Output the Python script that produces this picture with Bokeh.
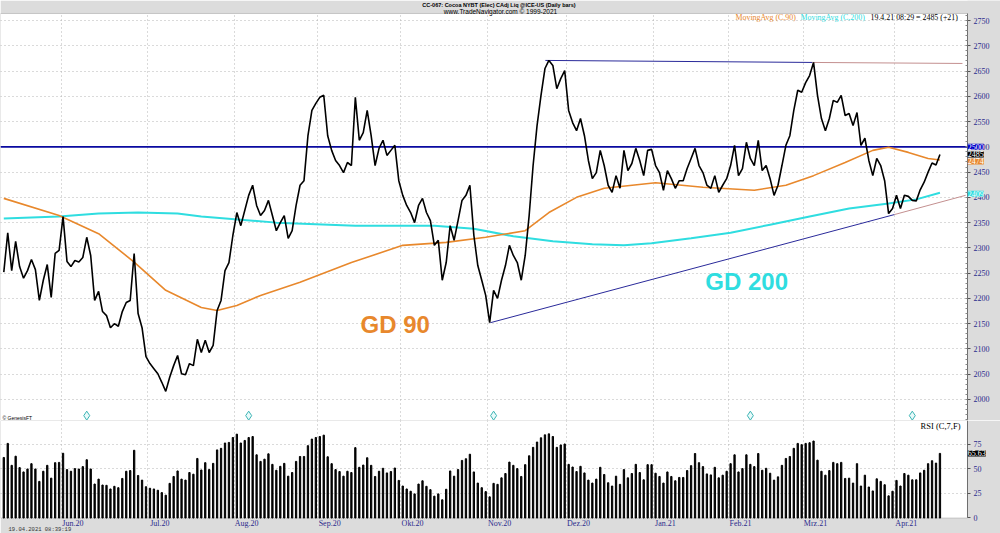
from bokeh.plotting import figure
from bokeh.models import Range1d, FixedTicker, Label, LinearAxis, BoxAnnotation
from bokeh.layouts import column
from bokeh.embed import file_html
from bokeh.resources import INLINE
from bokeh.core.properties import value

# ---------------- data ----------------
close = [
    2252, 2330, 2255, 2313, 2263, 2240, 2255, 2277, 2257, 2196,
    2236, 2267, 2202, 2289, 2295, 2362, 2273, 2263, 2275, 2272,
    2281, 2321, 2285, 2196, 2214, 2174, 2166, 2142, 2150, 2145,
    2174, 2192, 2196, 2289, 2170, 2142, 2085, 2071, 2061, 2051,
    2034, 2016, 2044, 2067, 2087, 2051, 2049, 2071, 2067, 2119,
    2093, 2117, 2093, 2107, 2176, 2196, 2255, 2271, 2325, 2370,
    2344, 2374, 2404, 2424, 2384, 2364, 2374, 2394, 2364, 2334,
    2350, 2364, 2319, 2334, 2384, 2424, 2433, 2522, 2572, 2586,
    2598, 2602, 2522, 2493, 2473, 2463, 2449, 2469, 2463, 2598,
    2513, 2528, 2572, 2522, 2463, 2497, 2513, 2483, 2493, 2503,
    2433, 2404, 2384, 2370, 2350, 2384, 2398, 2370, 2354, 2305,
    2315, 2236, 2271, 2344, 2315, 2354, 2394, 2404, 2424, 2325,
    2265, 2236, 2206, 2152, 2216, 2200, 2236, 2265, 2305, 2285,
    2271, 2236, 2285, 2364, 2463, 2542, 2602, 2655, 2671, 2661,
    2615, 2635, 2651, 2572, 2548, 2532, 2556, 2522, 2473, 2437,
    2449, 2493, 2463, 2424, 2410, 2443, 2418, 2493, 2453, 2467,
    2497, 2473, 2443, 2493, 2495, 2463, 2449, 2414, 2453, 2437,
    2418, 2433, 2433, 2457, 2477, 2497, 2463, 2449, 2424, 2418,
    2443, 2410, 2424, 2437, 2463, 2503, 2443, 2457, 2509, 2477,
    2463, 2513, 2453, 2463, 2437, 2404, 2424, 2463, 2503, 2522,
    2572, 2612, 2608, 2627, 2641, 2667, 2602, 2556, 2532, 2556,
    2592, 2588, 2602, 2562, 2566, 2542, 2568, 2503, 2517, 2473,
    2443, 2477, 2463, 2433, 2368, 2378, 2404, 2378, 2404, 2402,
    2394, 2393, 2415, 2430, 2450, 2468, 2464, 2485,
]

rsi = [
    61.5, 75.8, 53.5, 62.8, 51.2, 46.8, 49.8, 55.2, 49.8, 37.2,
    47.5, 53.5, 40.5, 56.2, 56.5, 65.8, 49.2, 47.5, 50.2, 49.8,
    52.2, 59.2, 49.8, 34.5, 39.5, 33.5, 33.2, 29.5, 32.2, 30.8,
    40.2, 47.5, 48.2, 68.8, 43.2, 38.5, 31.8, 30.2, 29.5, 28.2,
    25.8, 23.2, 35.2, 42.2, 47.8, 39.5, 38.5, 46.2, 44.5, 60.5,
    48.8, 56.2, 49.2, 55.5, 69.2, 70.8, 76.2, 76.8, 81.8, 85.2,
    76.2, 78.8, 81.8, 82.8, 64.2, 57.5, 59.8, 65.2, 54.5, 48.5,
    52.5, 55.5, 42.5, 46.2, 57.5, 62.5, 62.5, 73.5, 80.2, 81.8,
    82.8, 84.2, 62.2, 55.2, 49.2, 47.2, 42.5, 47.5, 46.2, 71.5,
    51.5, 53.8, 61.2, 53.5, 42.2, 47.5, 50.5, 45.8, 47.2, 50.8,
    38.2, 32.5, 29.5, 27.2, 24.5, 34.5, 37.8, 32.2, 28.8, 22.2,
    24.5, 18.5, 29.2, 47.8, 42.5, 49.2, 58.5, 60.2, 64.8, 46.8,
    35.5, 30.8, 26.8, 21.5, 35.2, 34.2, 40.8, 45.2, 56.8, 53.5,
    50.2, 42.2, 54.2, 63.2, 71.8, 77.2, 81.5, 84.5, 85.5, 82.8,
    71.8, 74.2, 75.2, 54.5, 51.8, 47.2, 52.5, 45.8, 38.5, 35.5,
    39.5, 51.5, 44.2, 35.8, 32.5, 42.5, 34.2, 49.2, 40.8, 45.2,
    54.5, 46.2, 38.8, 54.2, 54.2, 45.5, 42.2, 35.5, 46.8, 42.2,
    37.8, 41.2, 41.2, 48.2, 53.2, 65.5, 56.2, 52.2, 44.8, 43.8,
    51.5, 40.8, 43.5, 47.5, 55.2, 64.2, 46.8, 50.2, 64.2, 54.5,
    52.2, 65.5, 48.5, 50.5, 45.5, 38.5, 41.8, 53.5, 60.5, 62.5,
    70.8, 75.8, 74.5, 75.8, 76.5, 78.2, 58.8, 47.5, 43.5, 48.2,
    56.5, 55.2, 56.5, 40.2, 40.5, 35.5, 55.2, 32.5, 43.5, 31.5,
    27.5, 39.8, 37.2, 33.8, 22.5, 27.2, 38.2, 32.5, 45.2, 43.5,
    38.8, 38.8, 45.8, 48.5, 55.2, 58.2, 55.8, 65.63,
]

# moving averages, read at selected bars
ma90_bar = [1, 15, 25, 34, 42, 51, 55, 60, 66, 76, 89, 102, 113, 123, 133,
            139, 146, 153, 166, 178, 191, 199, 206, 214, 221, 225, 230, 235, 238]
ma90_val = [2398, 2364, 2328, 2272, 2216, 2182, 2176, 2186, 2206, 2232, 2271, 2305, 2311, 2321, 2334,
            2370, 2400, 2418, 2429, 2420, 2414, 2424, 2443, 2469, 2493, 2499, 2489, 2477, 2474]

ma200_bar = [1, 15, 25, 35, 45, 51, 70, 90, 110, 120, 130, 140, 150, 158,
             165, 175, 185, 195, 205, 215, 225, 232, 238]
ma200_val = [2358, 2362, 2368, 2370, 2368, 2362, 2350, 2344, 2344, 2338, 2323, 2313, 2307, 2305,
             2309, 2319, 2330, 2346, 2362, 2378, 2388, 2396, 2409]

# trend lines (bar, price)
top_trend_bar = [138.1, 205.7]
top_trend_val = [2671, 2667]
top_ext_bar = [205.7, 243.7]
top_ext_val = [2667, 2665]
low_trend_bar = [124.2, 226.5]
low_trend_val = [2152, 2366]
low_ext_bar = [226.5, 244.5]
low_ext_val = [2366, 2404]
resistance = 2500

signal_bars = [22, 63, 125, 190, 231]
signal_level = [1968, 1968, 1968, 1968, 1968]

month_start = [16, 38, 60, 81, 102, 124, 144, 166, 185, 204, 227]
month_labels = ["Jun.20", "Jul.20", "Aug.20", "Sep.20", "Okt.20", "Nov.20",
                "Dez.20", "Jan.21", "Feb.21", "Mrz.21", "Apr.21"]
price_ticks = [2000, 2050, 2100, 2150, 2200, 2250, 2300, 2350, 2400, 2450,
               2500, 2550, 2600, 2650, 2700, 2750]
rsi_ticks = [0, 25, 50, 75]

# last values shown in the axis boxes
box_vals = [2407, 2471, 2485, 2500]
box_text = ["2409", "2474", "2485", "2500"]

gd_text = ["GD 90", "GD 200"]
gd_bar = [91.3, 178.6]
gd_val = [2148, 2234]

bars = list(range(1, len(close) + 1))

# ---------------- styling / frame geometry ----------------
W = 1000
GREY = "#dcdcdc"
NAVY = "#2b2b8c"
ORANGE = "#e8882c"
CYAN = "#2fdde0"
SERIF = "Liberation Serif"
GRID = "#b4b4b4"
FRAME = "#6e6e6e"

X0, X1 = 0.165, 253.33          # full canvas width in bar units
AX = 244.97                      # where the price/RSI scale sits
P_LO, P_HI, P_TOP = 1958.4, 2763.9, 2789.6
R_LO, R_HI, R_BOT = 0.0, 99.06, -15.75

xr = Range1d(X0, X1)


def slabel(fig, x, y, text, size="8px", color="black", font=SERIF, align="left",
           style="normal", bg=None, xunits="screen", yunits="screen"):
    lab = Label(x=x, y=y, x_units=xunits, y_units=yunits, text=text,
                text_font=font, text_font_size=size, text_color=color,
                text_align=align, text_baseline="middle", text_font_style=style)
    if bg is not None:
        lab.background_fill_color = bg
    fig.add_layout(lab)


def style_grid(fig, yticks):
    fig.xgrid.ticker = FixedTicker(ticks=[m - 0.5 for m in month_start])
    fig.ygrid.ticker = FixedTicker(ticks=yticks)
    for g in (fig.xgrid, fig.ygrid):
        g.grid_line_color = GRID
        g.grid_line_dash = "1 3"
        g.grid_line_width = 1


# ---------------- price panel ----------------
p = figure(width=W, height=420, x_range=xr, y_range=Range1d(P_LO, P_TOP),
           x_axis_location=None, y_axis_location=None,
           output_backend="svg", toolbar_location=None,
           min_border_left=0, min_border_right=0, min_border_top=0, min_border_bottom=0)
p.background_fill_color = "white"
p.border_fill_color = GREY
p.outline_line_color = None
style_grid(p, price_ticks)

# grey margins (header band, scale band) and plot frame
p.add_layout(BoxAnnotation(bottom=P_HI, fill_color=GREY, fill_alpha=1, line_color=None, level="underlay"))
p.add_layout(BoxAnnotation(left=AX, fill_color=GREY, fill_alpha=1, line_color=None, level="underlay"))
p.add_layout(BoxAnnotation(left=X0, right=AX, bottom=P_LO, top=P_HI, fill_alpha=0,
                           line_color=FRAME, line_width=1, level="underlay"))

pax = LinearAxis(fixed_location=AX, bounds=(P_LO, P_HI))
pax.ticker = FixedTicker(ticks=price_ticks, minor_ticks=list(range(1960, 2761, 10)))
pax.major_label_text_font = SERIF
pax.major_label_text_font_size = "8px"
pax.major_label_text_color = NAVY
pax.axis_line_color = FRAME
pax.major_tick_line_color = "#555555"
pax.minor_tick_line_color = "#888888"
pax.major_tick_in = 0
pax.major_tick_out = 3
pax.minor_tick_in = 2
pax.minor_tick_out = 0
pax.major_label_standoff = 3
p.add_layout(pax, "right")

p.line([X0, AX], [resistance, resistance], line_color="#0a0aa0", line_width=1.6)
p.line(ma200_bar, ma200_val, line_color=CYAN, line_width=2)
p.line(ma90_bar, ma90_val, line_color=ORANGE, line_width=1.6)
p.line(top_trend_bar, top_trend_val, line_color="#2a2a9a", line_width=1)
p.line(top_ext_bar, top_ext_val, line_color="#c49090", line_width=1)
p.line(low_trend_bar, low_trend_val, line_color="#2a2a9a", line_width=1)
p.line(low_ext_bar, low_ext_val, line_color="#c49090", line_width=1)
p.line(bars, close, line_color="black", line_width=1.6)

p.scatter(signal_bars, signal_level, marker="diamond", size=9, line_color="#3cb4b4",
          fill_color="#e8fafa", line_width=1)

p.text(gd_bar, gd_val, text=gd_text, text_font=value("Liberation Sans"), text_font_style="bold",
       text_font_size="24px", text_color=[ORANGE, CYAN], text_baseline="middle")

# header texts (screen units from bottom-left of the canvas)
slabel(p, 500, 415.5, "CC-067:  Cocoa NYBT (Elec) CAdj Liq @ICE-US  (Daily bars)", size="5.5px",
       font="Liberation Sans", align="center", style="bold")
slabel(p, 500, 409.5, "www.TradeNavigator.com © 1999-2021", size="6.5px",
       font="Liberation Sans", align="center")
# info line
slabel(p, 735, 403, "MovingAvg (C,90)", size="7.9px", color=ORANGE)
slabel(p, 800, 403, "MovingAvg (C,200)", size="7.9px", color=CYAN)
slabel(p, 870, 403, "19.4.21 08:29 = 2485 (+21)", size="7.9px")
slabel(p, 2, 3, "© GenesisFT", size="5px", font="Liberation Sans")

# value boxes on the price scale
box_colors = [CYAN, ORANGE, "black", "#0000c8"]
for v, t, c in zip(box_vals, box_text, box_colors):
    slabel(p, AX + 0.08, v, t, size="8px", color="white", bg=c, xunits="data", yunits="data")

# ---------------- RSI panel ----------------
r = figure(width=W, height=113, x_range=xr, y_range=Range1d(R_BOT, R_HI),
           x_axis_location=None, y_axis_location=None,
           output_backend="svg", toolbar_location=None,
           min_border_left=0, min_border_right=0, min_border_top=0, min_border_bottom=0)
r.background_fill_color = "white"
r.border_fill_color = GREY
r.outline_line_color = None
style_grid(r, [25, 50, 75])

r.add_layout(BoxAnnotation(top=R_LO, fill_color=GREY, fill_alpha=1, line_color=None, level="underlay"))
r.add_layout(BoxAnnotation(left=AX, fill_color=GREY, fill_alpha=1, line_color=None, level="underlay"))
r.add_layout(BoxAnnotation(left=X0, right=AX, bottom=R_LO, top=R_HI, fill_alpha=0,
                           line_color=FRAME, line_width=1, level="underlay"))

r.vbar(x=bars, top=rsi, bottom=0, width=0.33, color="black")

rax = LinearAxis(fixed_location=AX, bounds=(R_LO, R_HI))
rax.ticker = FixedTicker(ticks=rsi_ticks)
rax.major_label_text_font = SERIF
rax.major_label_text_font_size = "8px"
rax.major_label_text_color = NAVY
rax.axis_line_color = FRAME
rax.major_tick_line_color = "#555555"
rax.major_tick_in = 0
rax.major_tick_out = 3
rax.minor_tick_line_color = None
rax.major_label_standoff = 3
r.add_layout(rax, "right")

label_ticks = [m + 2.5 for m in month_start]
xax = LinearAxis(fixed_location=R_LO, bounds=(X0, AX))
xax.ticker = FixedTicker(ticks=label_ticks)
xax.major_label_overrides = {t: l for t, l in zip(label_ticks, month_labels)}
xax.major_label_text_font = SERIF
xax.major_label_text_font_size = "8px"
xax.major_label_text_color = NAVY
xax.axis_line_color = None
xax.major_tick_line_color = None
xax.minor_tick_line_color = None
xax.major_tick_in = 0
xax.major_tick_out = 0
xax.major_label_standoff = 1
r.add_layout(xax, "below")

slabel(r, 960, 108, "RSI (C,7,F)", size="8.5px", align="right")
slabel(r, AX + 0.08, 65.63, "65.63", size="8px", color="white", bg="black", xunits="data", yunits="data")
slabel(r, 8, 4, "19.04.2021 08:39:19", size="5.5px", font="Liberation Mono", color="#333333")

layout = column(p, r, spacing=0)
open("out.html", "w").write(file_html(layout, INLINE))
